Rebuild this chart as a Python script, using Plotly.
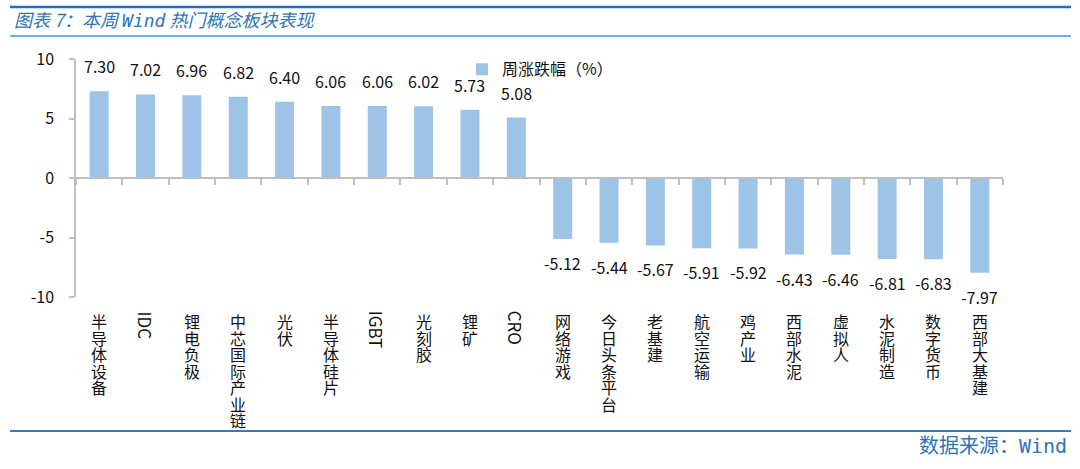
import plotly.graph_objects as go

categories = ["半导体设备", "IDC", "锂电负极", "中芯国际产业链", "光伏", "半导体硅片", "IGBT",
              "光刻胶", "锂矿", "CRO", "网络游戏", "今日头条平台", "老基建", "航空运输", "鸡产业",
              "西部水泥", "虚拟人", "水泥制造", "数字货币", "西部大基建"]
values = [7.30, 7.02, 6.96, 6.82, 6.40, 6.06, 6.06, 6.02, 5.73, 5.08,
          -5.12, -5.44, -5.67, -5.91, -5.92, -6.43, -6.46, -6.81, -6.83, -7.97]
series_name = "周涨跌幅（%）"
y_ticks = [-10, -5, 0, 5, 10]

W, H = 1080, 469
ML, MR, MT, MB = 76, 77, 59, 172
plot_h = H - MT - MB
plot_w = W - ML - MR

FONT = "Noto Sans CJK SC"
MONO = "DejaVu Sans Mono"
BAR = "#9DC3E6"
AXIS = "#BFBFBF"
BLUE = "#2E75B6"
TXT = "#111111"

fig = go.Figure()
fig.add_trace(go.Bar(x=categories, y=values, name=series_name, marker=dict(color=BAR, line=dict(width=0)),
                     showlegend=True, hoverinfo="x+y"))

annotations = []
# data labels
for c, v in zip(categories, values):
    annotations.append(dict(x=c, y=v, xref="x", yref="y", text=f"{v:.2f}", showarrow=False,
                            yanchor="bottom" if v >= 0 else "top",
                            yshift=11 if v >= 0 else -10,
                            font=dict(family=FONT, size=16, color=TXT)))

# category labels (stacked CJK, rotated Latin)
pitch = 16.5
for c in categories:
    if all(ord(ch) < 128 for ch in c):
        annotations.append(dict(x=c, y=0, xref="x", yref="paper", text=c, showarrow=False,
                                textangle=90, yanchor="top", xanchor="center", yshift=-12,
                                font=dict(family=FONT, size=17, color=TXT)))
    else:
        stacked = "<br>".join(f'<span style="font-size:16px">{ch}</span>' for ch in c)
        annotations.append(dict(x=c, y=0, xref="x", yref="paper", text=stacked, showarrow=False,
                                yanchor="top", xanchor="center", yshift=-10, align="center",
                                font=dict(family=FONT, size=pitch / 1.3, color=TXT)))

# footer
annotations.append(dict(x=(1069 - ML) / plot_w, y=(H - MB - 444) / plot_h, xref="paper", yref="paper",
                        text=f'数据来源：<span style="font-family:{MONO}">Wind</span>', showarrow=False,
                        xanchor="right", yanchor="middle",
                        font=dict(family=FONT, size=20, color=BLUE)))

def py(p):
    return (H - MB - p) / plot_h

x0, x1 = (10 - ML) / plot_w, (1071 - ML) / plot_w
shapes = [
    dict(type="line", xref="paper", yref="paper", x0=x0, x1=x1, y0=py(7), y1=py(7),
         line=dict(color="#1F6FBF", width=2.5)),
    dict(type="line", xref="paper", yref="paper", x0=x0, x1=x1, y0=py(36), y1=py(36),
         line=dict(color="#3D8FD8", width=1.5)),
    dict(type="line", xref="paper", yref="paper", x0=x0, x1=x1, y0=py(431), y1=py(431),
         line=dict(color="#2E7DC8", width=2)),
]

fig.update_layout(
    width=W, height=H,
    margin=dict(l=ML, r=MR, t=MT, b=MB),
    paper_bgcolor="white", plot_bgcolor="white",
    bargap=0.59,
    title=dict(text=f'图表 7：本周 <span style="font-family:{MONO}">Wind</span> 热门概念板块表现',
               x=14 / W, xanchor="left", y=1 - 21 / H, yanchor="middle",
               font=dict(family=FONT, size=18, color=BLUE, style="italic")),
    xaxis=dict(type="category", anchor="free", position=0.5, showline=True, linecolor=AXIS, linewidth=1.5,
               ticks="outside", ticklen=6, tickcolor=AXIS, tickwidth=1.5, tickson="boundaries",
               showticklabels=False, showgrid=False, zeroline=False, range=[-0.5, len(categories) - 0.5]),
    yaxis=dict(range=[-10, 10], tickvals=y_ticks, ticktext=[str(t) for t in y_ticks],
               showline=True, linecolor=AXIS, linewidth=1.5, ticks="outside", ticklen=5,
               tickcolor=AXIS, tickwidth=1.5, showgrid=False, zeroline=False, ticklabelstandoff=12,
               tickfont=dict(family=FONT, size=16, color=TXT)),
    legend=dict(x=(462 - ML) / plot_w, y=1.028, xanchor="left", yanchor="top",
                font=dict(family=FONT, size=16, color=TXT), bgcolor="rgba(0,0,0,0)"),
    annotations=annotations,
    shapes=shapes,
)

fig.write_html("out.html", config={"displayModeBar": False},
               post_script="document.body.style.margin='0';document.body.style.overflow='hidden';")
